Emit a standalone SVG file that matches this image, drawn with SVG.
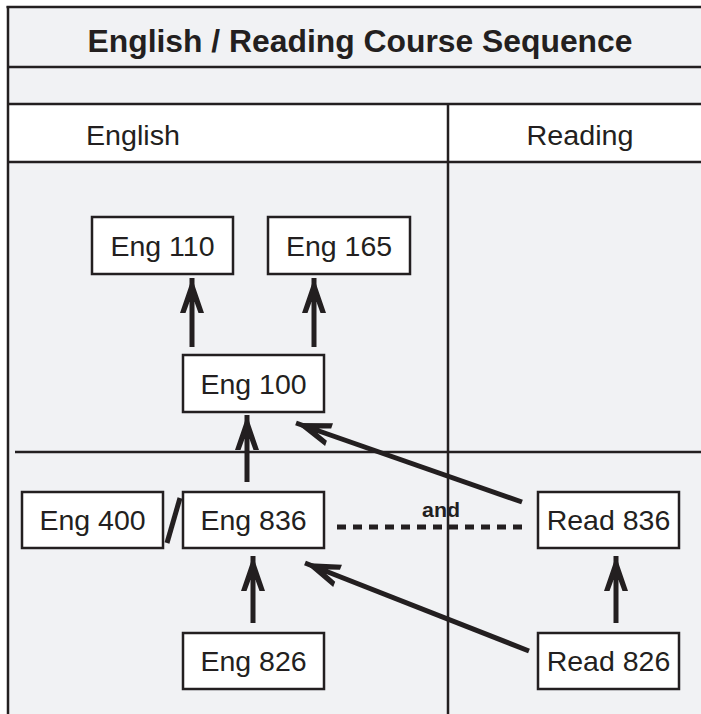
<svg xmlns="http://www.w3.org/2000/svg" width="701" height="714" viewBox="0 0 701 714">
<style>
.grid{stroke:#231f20;stroke-width:2.5;fill:none}
.box{fill:#ffffff;stroke:#231f20;stroke-width:2.5}
.lbl{font-family:"Liberation Sans",Arial,sans-serif;font-size:28.5px;fill:#231f20;text-anchor:middle}
.hdr{font-family:"Liberation Sans",Arial,sans-serif;font-size:27px;fill:#231f20;text-anchor:middle}
.ttl{font-family:"Liberation Sans",Arial,sans-serif;font-size:31px;font-weight:bold;fill:#231f20;text-anchor:middle}
.and{font-family:"Liberation Sans",Arial,sans-serif;font-size:21px;font-weight:bold;fill:#231f20;text-anchor:middle}
.arr{stroke:#231f20;stroke-width:5;fill:none;marker-end:url(#ah)}
.dash{stroke:#231f20;stroke-width:5;fill:none;stroke-dasharray:9 7}
</style>
<defs>
<marker id="ah" markerUnits="userSpaceOnUse" viewBox="-36 -13 37 26" refX="0" refY="0" markerWidth="37" markerHeight="26" orient="auto">
<path d="M0,0 L-35,-12 L-35,-6.5 L-24,-2.5 L-24,2.5 L-35,6.5 L-35,12 Z" fill="#231f20"/>
</marker>
</defs>
<g id="table">
<rect x="8" y="7" width="700" height="710" fill="#f1f2f4"/>
<rect x="8" y="104" width="700" height="58" fill="#ffffff"/>
<line class="grid" x1="6.5" y1="7" x2="701" y2="7"/>
<line class="grid" x1="8" y1="6" x2="8" y2="714"/>
<line class="grid" x1="8" y1="67" x2="701" y2="67"/>
<line class="grid" x1="8" y1="104" x2="701" y2="104"/>
<line class="grid" x1="8" y1="162" x2="701" y2="162"/>
<line class="grid" x1="15" y1="452" x2="701" y2="452"/>
<line class="grid" x1="448" y1="105" x2="448" y2="714"/>
<text class="ttl" x="360" y="52" textLength="545" lengthAdjust="spacingAndGlyphs">English / Reading Course Sequence</text>
<text class="hdr" x="133" y="145" textLength="94" lengthAdjust="spacingAndGlyphs">English</text>
<text class="hdr" x="580" y="145" textLength="107" lengthAdjust="spacingAndGlyphs">Reading</text>
</g>
<g id="connectors">
<line class="arr" x1="192" y1="347" x2="192" y2="278"/>
<line class="arr" x1="314" y1="347" x2="314" y2="278"/>
<line class="arr" x1="247" y1="482" x2="247" y2="415"/>
<line class="arr" x1="253" y1="623" x2="253" y2="556"/>
<line class="arr" x1="616" y1="623" x2="616" y2="556"/>
<line class="arr" x1="522" y1="502" x2="296" y2="423"/>
<line class="arr" x1="529" y1="651" x2="305" y2="563"/>
<line class="dash" x1="337" y1="527" x2="526" y2="527"/>
<line x1="167" y1="543" x2="180" y2="498" stroke="#231f20" stroke-width="5"/>
<text class="and" x="441" y="517" textLength="38" lengthAdjust="spacingAndGlyphs">and</text>
</g>
<g id="eng110"><rect class="box" x="92" y="217" width="141" height="57"/><text class="lbl" x="162.5" y="256">Eng 110</text></g>
<g id="eng165"><rect class="box" x="268" y="217" width="142" height="57"/><text class="lbl" x="339" y="256">Eng 165</text></g>
<g id="eng100"><rect class="box" x="183" y="355" width="141" height="57"/><text class="lbl" x="253.5" y="394">Eng 100</text></g>
<g id="eng400"><rect class="box" x="22" y="492" width="141" height="56"/><text class="lbl" x="92.5" y="530">Eng 400</text></g>
<g id="eng836"><rect class="box" x="183" y="492" width="141" height="56"/><text class="lbl" x="253.5" y="530">Eng 836</text></g>
<g id="eng826"><rect class="box" x="183" y="633" width="141" height="56"/><text class="lbl" x="253.5" y="671">Eng 826</text></g>
<g id="read836"><rect class="box" x="538" y="492" width="141" height="56"/><text class="lbl" x="608.5" y="530">Read 836</text></g>
<g id="read826"><rect class="box" x="538" y="633" width="141" height="56"/><text class="lbl" x="608.5" y="671">Read 826</text></g>
</svg>
